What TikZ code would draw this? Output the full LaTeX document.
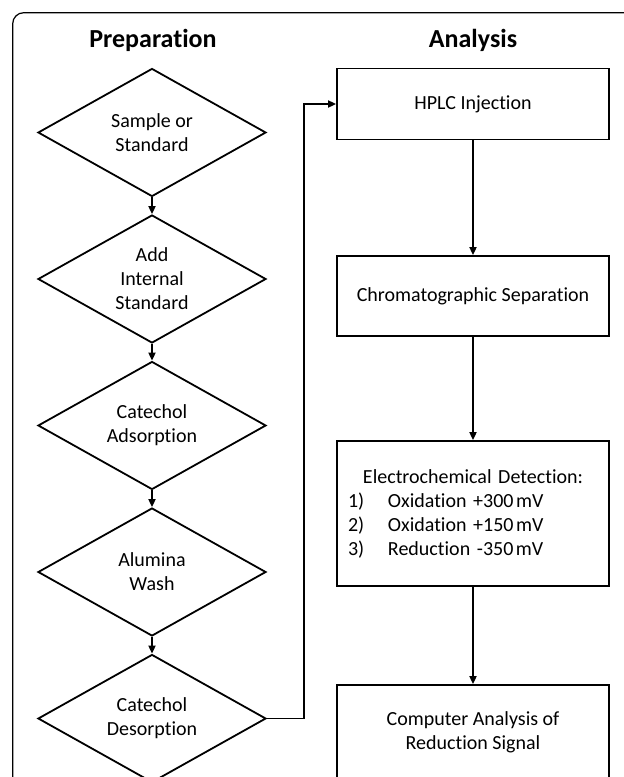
\documentclass[tikz,border=0pt]{standalone}
\usepackage{fontspec}
\setmainfont{Carlito}[Ligatures=NoCommon]
\usetikzlibrary{shapes.geometric,arrows.meta}

\begin{document}
\begin{tikzpicture}[x=1pt, y=-1pt, line width=1.8pt,
  >={Triangle[length=8pt,width=7pt]},
  prepstep/.style={diamond, draw, aspect=1.78, inner sep=0pt,
    minimum width=228pt, minimum height=128pt, align=center,
    font=\fontsize{20}{24}\selectfont},
  procbox/.style={rectangle, draw, minimum width=272pt, align=center,
    font=\fontsize{20}{24}\selectfont},
  coltitle/.style={font=\fontsize{26}{31}\selectfont\bfseries}]
\useasboundingbox (0,0) rectangle (624,777);
\clip (0,0) rectangle (624,777);
\draw[line width=1.2pt, rounded corners=11pt] (12.7,12.7) rectangle (680,850);
% column titles
\node[coltitle] (preptitle) at (153,40) {Preparation};
\node[coltitle] (antitle) at (473,40) {Analysis};
% preparation steps
\node[prepstep] (sample) at (152,132.5) {Sample or\\Standard};
\node[prepstep] (intstd) at (152,279) {Add\\Internal\\Standard};
\node[prepstep] (adsorb) at (152,425.5) {Catechol\\Adsorption};
\node[prepstep] (wash) at (152,572) {Alumina\\Wash};
\node[prepstep] (desorb) at (152,718.5) {Catechol\\Desorption};
\draw[->] (sample.south) -- (intstd.north);
\draw[->] (intstd.south) -- (adsorb.north);
\draw[->] (adsorb.south) -- (wash.north);
\draw[->] (wash.south) -- (desorb.north);
% analysis steps
\node[procbox, minimum height=71pt] (hplc) at (473,104) {HPLC Injection};
\node[procbox, minimum height=80pt] (chrom) at (473,296) {Chromatographic Separation};
\node[procbox, minimum height=145pt, align=left, text width=250pt, inner xsep=11pt] (detect) at (473,513.5)
  {\makebox[250pt][c]{Electrochemical Detection:}\\
   \makebox[40pt][l]{1)}Oxidation +300\hspace{2.5pt}mV\\
   \makebox[40pt][l]{2)}Oxidation +150\hspace{2.5pt}mV\\
   \makebox[40pt][l]{3)}Reduction -350\hspace{2.5pt}mV};
\node[procbox, minimum height=95pt] (comp) at (473,732.5) {Computer Analysis of\\Reduction Signal};
\draw[->] (hplc.south) -- (chrom.north);
\draw[->] (chrom.south) -- (detect.north);
\draw[->] (detect.south) -- (comp.north);
% link between the columns
\draw[->] (desorb.east) -- ++(37,0) |- (hplc.west);
\end{tikzpicture}
\end{document}
